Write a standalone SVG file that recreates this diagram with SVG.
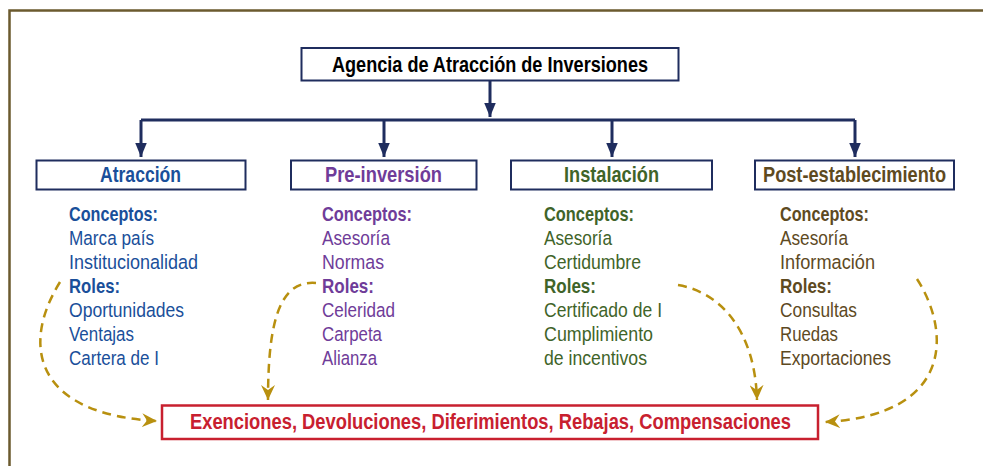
<svg xmlns="http://www.w3.org/2000/svg" width="983" height="466" viewBox="0 0 983 466">
<style>
text{font-family:"Liberation Sans",Arial,sans-serif}
.h{font-size:22px;font-weight:bold}
.t{font-size:20.5px}
.b{font-weight:bold}
.box{fill:#fff;stroke:#1f2d5e;stroke-width:2}
.nav{fill:none;stroke:#1f2d5e;stroke-width:3}
.dash{fill:none;stroke:#b8900f;stroke-width:2.5;stroke-dasharray:9 6}
.blue{fill:#1a4f9a}.purple{fill:#6f3c99}.green{fill:#3f6429}.brown{fill:#5e4a1f}
</style>
<defs>
<marker id="na" markerUnits="userSpaceOnUse" markerWidth="14" markerHeight="18" refX="17" refY="7" viewBox="0 0 17 14" orient="auto">
<path d="M0,0 L17,7 L0,14 z" fill="#1f2d5e"/>
</marker>
<marker id="ga" markerUnits="userSpaceOnUse" markerWidth="16" markerHeight="14" refX="15" refY="7" viewBox="0 0 16 14" orient="auto">
<path d="M0,0 L15,7 L0,14 L5,7 z" fill="#b8900f"/>
</marker>
</defs>
<rect width="983" height="466" fill="#fff"/>
<path d="M9.5,466 V10.5 H983" fill="none" stroke="#6b5a2e" stroke-width="2.5"/>

<g id="connectors">
<path class="nav" d="M490,81 V117" marker-end="url(#na)"/>
<path class="nav" d="M141,120 H855"/>
<path class="nav" d="M141,120 V157" marker-end="url(#na)"/>
<path class="nav" d="M384,120 V157" marker-end="url(#na)"/>
<path class="nav" d="M612,120 V157" marker-end="url(#na)"/>
<path class="nav" d="M855,120 V157" marker-end="url(#na)"/>
<path class="dash" d="M60,282 C18,350 40,415 157,421" marker-end="url(#ga)"/>
<path class="dash" d="M316,283 C280,280 268,320 268,400" marker-end="url(#ga)"/>
<path class="dash" d="M678,285 C720,292 755,330 757,400" marker-end="url(#ga)"/>
<path class="dash" d="M917,279 C950,330 955,415 825,422" marker-end="url(#ga)"/>
</g>

<g id="agencia">
<rect class="box" x="301.5" y="48" width="377" height="32.5"/>
<text class="h" x="332" y="72" textLength="316" lengthAdjust="spacingAndGlyphs" fill="#000">Agencia de Atracción de Inversiones</text>
</g>

<g id="atraccion">
<rect class="box" x="36.5" y="160.5" width="209" height="29"/>
<text class="h blue" x="100" y="182" textLength="81" lengthAdjust="spacingAndGlyphs">Atracción</text>
<g class="t blue">
<text class="b" x="69" y="221" textLength="89" lengthAdjust="spacingAndGlyphs">Conceptos:</text>
<text x="69" y="245" textLength="85" lengthAdjust="spacingAndGlyphs">Marca país</text>
<text x="69" y="269" textLength="129" lengthAdjust="spacingAndGlyphs">Institucionalidad</text>
<text class="b" x="69" y="293" textLength="51" lengthAdjust="spacingAndGlyphs">Roles:</text>
<text x="69" y="317" textLength="115" lengthAdjust="spacingAndGlyphs">Oportunidades</text>
<text x="69" y="341" textLength="65" lengthAdjust="spacingAndGlyphs">Ventajas</text>
<text x="69" y="365" textLength="90" lengthAdjust="spacingAndGlyphs">Cartera de I</text>
</g>
</g>

<g id="preinversion">
<rect class="box" x="291" y="160.5" width="185.5" height="29"/>
<text class="h purple" x="325" y="182" textLength="117" lengthAdjust="spacingAndGlyphs">Pre-inversión</text>
<g class="t purple">
<text class="b" x="322" y="221" textLength="90" lengthAdjust="spacingAndGlyphs">Conceptos:</text>
<text x="322" y="245" textLength="68" lengthAdjust="spacingAndGlyphs">Asesoría</text>
<text x="322" y="269" textLength="62" lengthAdjust="spacingAndGlyphs">Normas</text>
<text class="b" x="322" y="293" textLength="52" lengthAdjust="spacingAndGlyphs">Roles:</text>
<text x="322" y="317" textLength="73" lengthAdjust="spacingAndGlyphs">Celeridad</text>
<text x="322" y="341" textLength="60" lengthAdjust="spacingAndGlyphs">Carpeta</text>
<text x="322" y="365" textLength="55" lengthAdjust="spacingAndGlyphs">Alianza</text>
</g>
</g>

<g id="instalacion">
<rect class="box" x="511" y="160.5" width="201" height="29"/>
<text class="h green" x="564" y="182" textLength="95" lengthAdjust="spacingAndGlyphs">Instalación</text>
<g class="t green">
<text class="b" x="544" y="221" textLength="90" lengthAdjust="spacingAndGlyphs">Conceptos:</text>
<text x="544" y="245" textLength="68" lengthAdjust="spacingAndGlyphs">Asesoría</text>
<text x="544" y="269" textLength="97" lengthAdjust="spacingAndGlyphs">Certidumbre</text>
<text class="b" x="544" y="293" textLength="52" lengthAdjust="spacingAndGlyphs">Roles:</text>
<text x="544" y="317" textLength="118" lengthAdjust="spacingAndGlyphs">Certificado de I</text>
<text x="544" y="341" textLength="109" lengthAdjust="spacingAndGlyphs">Cumplimiento</text>
<text x="544" y="365" textLength="103" lengthAdjust="spacingAndGlyphs">de incentivos</text>
</g>
</g>

<g id="postestablecimiento">
<rect class="box" x="755" y="160.5" width="199" height="29"/>
<text class="h brown" x="763" y="182" textLength="183" lengthAdjust="spacingAndGlyphs">Post-establecimiento</text>
<g class="t brown">
<text class="b" x="780" y="221" textLength="89" lengthAdjust="spacingAndGlyphs">Conceptos:</text>
<text x="780" y="245" textLength="68" lengthAdjust="spacingAndGlyphs">Asesoría</text>
<text x="780" y="269" textLength="95" lengthAdjust="spacingAndGlyphs">Información</text>
<text class="b" x="780" y="293" textLength="52" lengthAdjust="spacingAndGlyphs">Roles:</text>
<text x="780" y="317" textLength="77" lengthAdjust="spacingAndGlyphs">Consultas</text>
<text x="780" y="341" textLength="58" lengthAdjust="spacingAndGlyphs">Ruedas</text>
<text x="780" y="365" textLength="111" lengthAdjust="spacingAndGlyphs">Exportaciones</text>
</g>
</g>

<g id="incentivos">
<rect x="162" y="405.5" width="656" height="33.5" fill="#fff" stroke="#c8202f" stroke-width="2.5"/>
<text class="h" x="190" y="429" textLength="601" lengthAdjust="spacingAndGlyphs" fill="#c8202f">Exenciones, Devoluciones, Diferimientos, Rebajas, Compensaciones</text>
</g>
</svg>
